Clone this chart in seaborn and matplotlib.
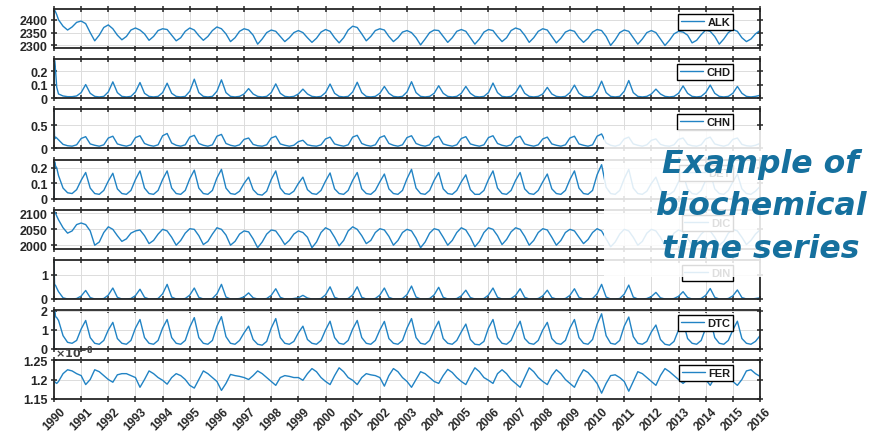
import numpy as np
import pandas as pd
import matplotlib
matplotlib.use("Agg")
import matplotlib.pyplot as plt
import seaborn as sns
from matplotlib.patches import Rectangle
from matplotlib.ticker import FuncFormatter, FixedLocator

sns.set_theme(style="white")
plt.rcParams["font.family"] = ["Liberation Sans", "DejaVu Sans"]
plt.rcParams["font.weight"] = "bold"

# ---------------- data ----------------
names = ["ALK", "CHD", "CHN", "DET", "DIC", "DIN", "DTC", "FER"]
year_ticks = list(range(1990, 2017))
t_head = [1990.0, 1990.02, 1990.06, 1990.1]      # spin-up samples
steps_per_year = 6                               # then every 2 months to 2016

alk_head = [2440, 2438, 2430, 2420]
alk_rows = [
    [2400, 2375, 2360, 2372, 2390, 2395], [2385, 2350, 2318, 2340, 2370, 2380],
    [2365, 2340, 2322, 2335, 2360, 2368], [2360, 2345, 2320, 2335, 2358, 2365],
    [2362, 2340, 2318, 2330, 2355, 2368], [2360, 2338, 2320, 2335, 2358, 2372],
    [2365, 2345, 2315, 2330, 2355, 2365], [2360, 2340, 2305, 2325, 2350, 2360],
    [2355, 2335, 2315, 2330, 2350, 2358], [2350, 2330, 2312, 2328, 2352, 2362],
    [2355, 2330, 2310, 2330, 2360, 2375], [2370, 2345, 2318, 2335, 2358, 2365],
    [2360, 2335, 2315, 2330, 2352, 2358], [2350, 2330, 2302, 2325, 2350, 2360],
    [2358, 2335, 2312, 2330, 2355, 2362], [2355, 2330, 2305, 2325, 2352, 2362],
    [2358, 2335, 2315, 2330, 2358, 2368], [2362, 2340, 2312, 2330, 2355, 2365],
    [2360, 2335, 2310, 2328, 2352, 2360], [2355, 2330, 2312, 2328, 2352, 2362],
    [2358, 2335, 2300, 2322, 2350, 2360], [2355, 2330, 2305, 2325, 2350, 2358],
    [2350, 2325, 2300, 2320, 2345, 2355], [2352, 2340, 2310, 2320, 2342, 2360],
    [2355, 2335, 2305, 2325, 2350, 2362], [2355, 2330, 2315, 2325, 2345, 2358],
]

chd_head = [0.0, 0.28, 0.2, 0.08]
chd_rows = [
    [0.03, 0.015, 0.01, 0.01, 0.015, 0.04], [0.10, 0.035, 0.012, 0.008, 0.012, 0.045],
    [0.12, 0.04, 0.012, 0.008, 0.012, 0.045], [0.115, 0.035, 0.012, 0.008, 0.012, 0.04],
    [0.11, 0.035, 0.012, 0.008, 0.012, 0.05], [0.14, 0.04, 0.012, 0.008, 0.012, 0.05],
    [0.135, 0.04, 0.012, 0.008, 0.012, 0.03], [0.07, 0.03, 0.012, 0.008, 0.012, 0.04],
    [0.105, 0.035, 0.012, 0.008, 0.012, 0.03], [0.066, 0.03, 0.012, 0.008, 0.012, 0.04],
    [0.104, 0.035, 0.012, 0.008, 0.012, 0.045], [0.117, 0.04, 0.012, 0.008, 0.012, 0.035],
    [0.086, 0.035, 0.012, 0.008, 0.012, 0.045], [0.121, 0.04, 0.012, 0.008, 0.012, 0.035],
    [0.091, 0.035, 0.012, 0.008, 0.012, 0.035], [0.086, 0.035, 0.012, 0.008, 0.012, 0.04],
    [0.111, 0.04, 0.012, 0.008, 0.012, 0.04], [0.096, 0.035, 0.012, 0.008, 0.012, 0.03],
    [0.079, 0.03, 0.012, 0.008, 0.012, 0.04], [0.096, 0.035, 0.012, 0.008, 0.012, 0.05],
    [0.125, 0.04, 0.012, 0.008, 0.012, 0.05], [0.13, 0.04, 0.012, 0.008, 0.012, 0.03],
    [0.066, 0.03, 0.012, 0.008, 0.012, 0.035], [0.09, 0.035, 0.012, 0.008, 0.012, 0.04],
    [0.096, 0.035, 0.012, 0.008, 0.012, 0.035], [0.086, 0.035, 0.012, 0.008, 0.012, 0.02],
]

chn_head = [0.84, 0.2, 0.24, 0.22]
chn_rows = [
    [0.18, 0.08, 0.05, 0.04, 0.07, 0.21], [0.25, 0.09, 0.06, 0.04, 0.07, 0.22],
    [0.26, 0.09, 0.06, 0.04, 0.07, 0.23], [0.27, 0.10, 0.06, 0.04, 0.07, 0.27],
    [0.32, 0.11, 0.06, 0.04, 0.07, 0.24], [0.28, 0.10, 0.06, 0.04, 0.07, 0.26],
    [0.30, 0.10, 0.06, 0.04, 0.07, 0.19], [0.22, 0.08, 0.05, 0.04, 0.07, 0.22],
    [0.26, 0.09, 0.06, 0.04, 0.06, 0.14], [0.17, 0.07, 0.05, 0.04, 0.07, 0.20],
    [0.24, 0.09, 0.06, 0.04, 0.07, 0.24], [0.28, 0.10, 0.06, 0.04, 0.07, 0.23],
    [0.27, 0.10, 0.06, 0.04, 0.07, 0.23], [0.27, 0.10, 0.06, 0.04, 0.07, 0.22],
    [0.26, 0.09, 0.06, 0.04, 0.07, 0.21], [0.25, 0.09, 0.06, 0.04, 0.07, 0.23],
    [0.27, 0.10, 0.06, 0.04, 0.07, 0.22], [0.26, 0.09, 0.06, 0.04, 0.07, 0.20],
    [0.24, 0.09, 0.06, 0.04, 0.07, 0.22], [0.26, 0.09, 0.06, 0.04, 0.07, 0.26],
    [0.31, 0.11, 0.06, 0.04, 0.07, 0.20], [0.24, 0.09, 0.06, 0.04, 0.07, 0.17],
    [0.20, 0.08, 0.05, 0.04, 0.07, 0.19], [0.22, 0.08, 0.05, 0.04, 0.07, 0.20],
    [0.24, 0.09, 0.06, 0.04, 0.07, 0.19], [0.22, 0.08, 0.05, 0.04, 0.06, 0.10],
]

det_head = [0.0, 0.24, 0.21, 0.2]
det_rows = [
    [0.15, 0.07, 0.04, 0.035, 0.06, 0.12], [0.17, 0.07, 0.035, 0.03, 0.055, 0.115],
    [0.165, 0.065, 0.035, 0.03, 0.055, 0.125], [0.18, 0.07, 0.035, 0.03, 0.055, 0.125],
    [0.18, 0.07, 0.035, 0.03, 0.055, 0.13], [0.185, 0.07, 0.035, 0.03, 0.055, 0.135],
    [0.19, 0.07, 0.035, 0.03, 0.05, 0.10], [0.14, 0.06, 0.03, 0.025, 0.05, 0.125],
    [0.18, 0.07, 0.035, 0.03, 0.05, 0.10], [0.14, 0.06, 0.035, 0.03, 0.055, 0.115],
    [0.167, 0.065, 0.035, 0.03, 0.055, 0.12], [0.17, 0.065, 0.035, 0.03, 0.055, 0.11],
    [0.16, 0.065, 0.035, 0.03, 0.055, 0.13], [0.19, 0.07, 0.035, 0.03, 0.055, 0.12],
    [0.17, 0.065, 0.035, 0.03, 0.055, 0.11], [0.155, 0.06, 0.03, 0.03, 0.055, 0.125],
    [0.18, 0.07, 0.035, 0.03, 0.055, 0.12], [0.17, 0.065, 0.035, 0.03, 0.055, 0.11],
    [0.16, 0.065, 0.035, 0.03, 0.055, 0.125], [0.18, 0.07, 0.035, 0.03, 0.055, 0.155],
    [0.22, 0.075, 0.035, 0.03, 0.055, 0.13], [0.19, 0.07, 0.035, 0.03, 0.05, 0.10],
    [0.14, 0.06, 0.03, 0.03, 0.05, 0.11], [0.16, 0.065, 0.035, 0.03, 0.055, 0.12],
    [0.17, 0.065, 0.035, 0.03, 0.055, 0.11], [0.16, 0.065, 0.035, 0.03, 0.05, 0.08],
]

dic_head = [2108, 2106, 2100, 2092]
dic_rows = [
    [2080, 2055, 2038, 2045, 2065, 2070], [2065, 2045, 2000, 2010, 2040, 2058],
    [2050, 2030, 2012, 2020, 2038, 2045], [2048, 2030, 2005, 2015, 2035, 2050],
    [2045, 2025, 2000, 2015, 2038, 2052], [2050, 2030, 2002, 2012, 2035, 2055],
    [2050, 2032, 2000, 2012, 2035, 2045], [2042, 2020, 1992, 2010, 2035, 2048],
    [2045, 2025, 2002, 2015, 2035, 2045], [2040, 2025, 1992, 2010, 2040, 2055],
    [2048, 2025, 1998, 2015, 2045, 2058], [2050, 2030, 2005, 2015, 2040, 2052],
    [2048, 2028, 2000, 2015, 2040, 2050], [2045, 2022, 1992, 2010, 2038, 2052],
    [2048, 2025, 2000, 2015, 2040, 2055], [2048, 2025, 1995, 2012, 2040, 2055],
    [2050, 2030, 2002, 2018, 2042, 2055], [2050, 2028, 2000, 2015, 2040, 2052],
    [2048, 2025, 2000, 2015, 2040, 2050], [2045, 2025, 2005, 2018, 2040, 2052],
    [2045, 2020, 1995, 2010, 2035, 2050], [2045, 2025, 2000, 2012, 2038, 2050],
    [2045, 2025, 1998, 2012, 2038, 2048], [2042, 2022, 2000, 2015, 2035, 2048],
    [2045, 2025, 2000, 2012, 2038, 2050], [2045, 2025, 2002, 2015, 2035, 2048],
]

din_head = [1.57, 0.6, 0.55, 0.45]
din_rows = [
    [0.3, 0.05, 0.0, 0.0, 0.02, 0.12], [0.35, 0.06, 0.0, 0.0, 0.02, 0.16],
    [0.45, 0.07, 0.0, 0.0, 0.02, 0.14], [0.4, 0.07, 0.0, 0.0, 0.02, 0.21],
    [0.6, 0.08, 0.0, 0.0, 0.02, 0.16], [0.45, 0.07, 0.0, 0.0, 0.02, 0.21],
    [0.6, 0.08, 0.0, 0.0, 0.02, 0.09], [0.25, 0.05, 0.0, 0.0, 0.02, 0.15],
    [0.42, 0.07, 0.0, 0.0, 0.02, 0.05], [0.15, 0.04, 0.0, 0.0, 0.02, 0.17],
    [0.5, 0.07, 0.0, 0.0, 0.02, 0.17], [0.5, 0.07, 0.0, 0.0, 0.02, 0.16],
    [0.45, 0.07, 0.0, 0.0, 0.02, 0.18], [0.53, 0.08, 0.0, 0.0, 0.02, 0.17],
    [0.48, 0.07, 0.0, 0.0, 0.02, 0.13], [0.36, 0.06, 0.0, 0.0, 0.02, 0.16],
    [0.45, 0.07, 0.0, 0.0, 0.02, 0.15], [0.42, 0.07, 0.0, 0.0, 0.02, 0.13],
    [0.36, 0.06, 0.0, 0.0, 0.02, 0.15], [0.42, 0.07, 0.0, 0.0, 0.02, 0.21],
    [0.6, 0.08, 0.0, 0.0, 0.02, 0.2], [0.57, 0.08, 0.0, 0.0, 0.02, 0.1],
    [0.27, 0.05, 0.0, 0.0, 0.02, 0.11], [0.3, 0.06, 0.0, 0.0, 0.02, 0.15],
    [0.43, 0.07, 0.0, 0.0, 0.02, 0.13], [0.37, 0.06, 0.0, 0.0, 0.02, 0.05],
]

dtc_head = [0.0, 2.0, 1.7, 1.65]
dtc_rows = [
    [1.5, 0.7, 0.35, 0.3, 0.45, 1.05], [1.5, 0.6, 0.3, 0.25, 0.45, 1.0],
    [1.4, 0.55, 0.3, 0.25, 0.45, 1.1], [1.55, 0.6, 0.3, 0.25, 0.45, 1.1],
    [1.55, 0.6, 0.3, 0.25, 0.45, 1.15], [1.65, 0.6, 0.3, 0.25, 0.45, 1.2],
    [1.7, 0.65, 0.3, 0.25, 0.45, 0.85], [1.2, 0.5, 0.25, 0.2, 0.4, 1.1],
    [1.6, 0.6, 0.3, 0.25, 0.4, 0.85], [1.2, 0.5, 0.3, 0.25, 0.45, 1.0],
    [1.46, 0.6, 0.3, 0.25, 0.45, 1.05], [1.5, 0.6, 0.3, 0.25, 0.45, 1.0],
    [1.45, 0.55, 0.3, 0.25, 0.45, 1.1], [1.6, 0.6, 0.3, 0.25, 0.45, 1.0],
    [1.46, 0.55, 0.3, 0.25, 0.45, 0.9], [1.31, 0.5, 0.25, 0.22, 0.4, 1.1],
    [1.55, 0.6, 0.3, 0.25, 0.45, 1.0], [1.46, 0.55, 0.3, 0.25, 0.45, 1.0],
    [1.4, 0.55, 0.3, 0.25, 0.45, 1.1], [1.55, 0.6, 0.3, 0.25, 0.5, 1.3],
    [1.85, 0.7, 0.3, 0.25, 0.45, 1.2], [1.68, 0.65, 0.3, 0.25, 0.4, 0.9],
    [1.26, 0.5, 0.25, 0.2, 0.4, 1.0], [1.46, 0.55, 0.3, 0.25, 0.45, 1.1],
    [1.6, 0.6, 0.3, 0.25, 0.45, 1.0], [1.46, 0.55, 0.3, 0.25, 0.4, 0.7],
]

# FER in units of 1e-8
fer_head = [1.198, 1.195, 1.192, 1.19]
fer_rows = [
    [1.195, 1.215, 1.225, 1.222, 1.215, 1.21], [1.187, 1.2, 1.225, 1.22, 1.21, 1.2],
    [1.193, 1.212, 1.215, 1.215, 1.21, 1.205], [1.18, 1.2, 1.222, 1.215, 1.205, 1.198],
    [1.188, 1.205, 1.215, 1.21, 1.2, 1.185], [1.178, 1.2, 1.222, 1.215, 1.205, 1.195],
    [1.172, 1.19, 1.213, 1.21, 1.208, 1.205], [1.2, 1.21, 1.222, 1.215, 1.205, 1.195],
    [1.185, 1.205, 1.21, 1.208, 1.205, 1.205], [1.198, 1.215, 1.228, 1.22, 1.205, 1.195],
    [1.187, 1.21, 1.23, 1.22, 1.205, 1.198], [1.187, 1.205, 1.215, 1.212, 1.21, 1.205],
    [1.183, 1.21, 1.228, 1.22, 1.205, 1.195], [1.18, 1.2, 1.22, 1.215, 1.205, 1.195],
    [1.19, 1.21, 1.226, 1.218, 1.205, 1.195], [1.187, 1.21, 1.23, 1.22, 1.205, 1.198],
    [1.19, 1.215, 1.225, 1.215, 1.2, 1.19], [1.18, 1.205, 1.23, 1.22, 1.205, 1.195],
    [1.187, 1.21, 1.225, 1.215, 1.2, 1.19], [1.18, 1.205, 1.225, 1.218, 1.205, 1.19],
    [1.165, 1.19, 1.21, 1.212, 1.205, 1.195], [1.17, 1.195, 1.22, 1.215, 1.205, 1.195],
    [1.185, 1.21, 1.228, 1.22, 1.21, 1.2], [1.19, 1.2, 1.225, 1.22, 1.21, 1.2],
    [1.185, 1.205, 1.222, 1.218, 1.205, 1.195], [1.185, 1.2, 1.222, 1.225, 1.215, 1.208],
]

yticks = {
    "ALK": [2300, 2350, 2400], "CHD": [0, 0.1, 0.2], "CHN": [0, 0.5],
    "DET": [0, 0.1, 0.2], "DIC": [2000, 2050, 2100], "DIN": [0, 1],
    "DTC": [0, 1, 2], "FER": [1.15, 1.2, 1.25],
}
ylims = {
    "ALK": (2290, 2442), "CHD": (0, 0.29), "CHN": (0, 0.86), "DET": (0, 0.25),
    "DIC": (1988, 2111), "DIN": (0, 1.6), "DTC": (0, 2.05), "FER": (1.15, 1.25),
}

# ---------------- long table ----------------
t_main = list(1990 + np.arange(1, 26 * steps_per_year + 1) / steps_per_year)
times = t_head + t_main
series = {
    "ALK": (alk_head, alk_rows), "CHD": (chd_head, chd_rows), "CHN": (chn_head, chn_rows),
    "DET": (det_head, det_rows), "DIC": (dic_head, dic_rows), "DIN": (din_head, din_rows),
    "DTC": (dtc_head, dtc_rows), "FER": (fer_head, fer_rows),
}
frames = []
for nm in names:
    head, rows = series[nm]
    vals = list(head) + [v for r in rows for v in r]
    frames.append(pd.DataFrame({"time": times, "value": vals, "var": nm}))
df = pd.concat(frames, ignore_index=True)

# ---------------- figure ----------------
W, H = 886, 435
fig = plt.figure(figsize=(W / 100, H / 100), dpi=100)
fig.patch.set_facecolor("white")
left_px, right_px = 54, 760
tops = [10, 60, 110, 161, 211, 261, 311, 361]
hpx = 39
line_color = "#2183c4"
dark = "#262626"

fmt = FuncFormatter(lambda v, p: f"{v:g}")
for i, nm in enumerate(names):
    ax = fig.add_axes([left_px / W, 1 - (tops[i] + hpx) / H,
                       (right_px - left_px) / W, hpx / H])
    sub = df[df["var"] == nm]
    sns.lineplot(data=sub, x="time", y="value", ax=ax, color=line_color,
                 lw=1.0, estimator=None, label=nm)
    ax.set_xlim(1990, 2016)
    ax.set_ylim(*ylims[nm])
    ax.xaxis.set_major_locator(FixedLocator(year_ticks))
    ax.yaxis.set_major_locator(FixedLocator(yticks[nm]))
    ax.yaxis.set_major_formatter(fmt)
    ax.set_xlabel("")
    ax.set_ylabel("")
    ax.set_facecolor("white")
    ax.grid(True, color="#dcdcdc", lw=0.7)
    ax.set_axisbelow(True)
    for s in ax.spines.values():
        s.set_visible(True)
        s.set_color(dark)
        s.set_linewidth(1.3)
    ax.tick_params(axis="both", which="major", direction="inout", length=5,
                   width=1.1, color=dark, top=True, right=True, bottom=True,
                   left=True, labelsize=9, labelcolor=dark, pad=2)
    if i < len(names) - 1:
        ax.tick_params(labelbottom=False)
    else:
        ax.set_xticks(year_ticks)
        ax.set_xticklabels([str(y) for y in year_ticks], rotation=45,
                           ha="center", fontsize=8.5, fontweight="bold")
        ax.text(0.002, 1.0, r"$\times10^{-8}$", transform=ax.transAxes,
                ha="left", va="bottom", fontsize=8, color="#404040")
    for lab in ax.get_yticklabels():
        lab.set_fontweight("bold")
    leg = ax.legend(loc="upper right", bbox_to_anchor=(0.962, 0.87),
                    borderaxespad=0, frameon=True, fancybox=False,
                    edgecolor="black", framealpha=1, fontsize=8,
                    handlelength=2.1, handletextpad=0.3, borderpad=0.25)
    leg.get_frame().set_linewidth(1.0)
    for txt in leg.get_texts():
        txt.set_fontweight("bold")
        txt.set_color("#1a1a1a")

# translucent overlay with caption
fig.add_artist(Rectangle((604 / W, 1 - 278 / H), (886 - 604) / W, (278 - 131) / H,
                         transform=fig.transFigure, facecolor="white",
                         edgecolor="none", alpha=0.86, zorder=10))
cap_color = "#15709e"
for txt, base in [("Example of", 173), ("biochemical", 215), ("time series", 258)]:
    fig.text(761 / W, 1 - base / H, txt, ha="center", va="baseline",
             fontsize=22.7, fontweight="bold", style="italic",
             color=cap_color, family="DejaVu Sans", zorder=11)

fig.savefig("out.png", dpi=100, facecolor="white")
